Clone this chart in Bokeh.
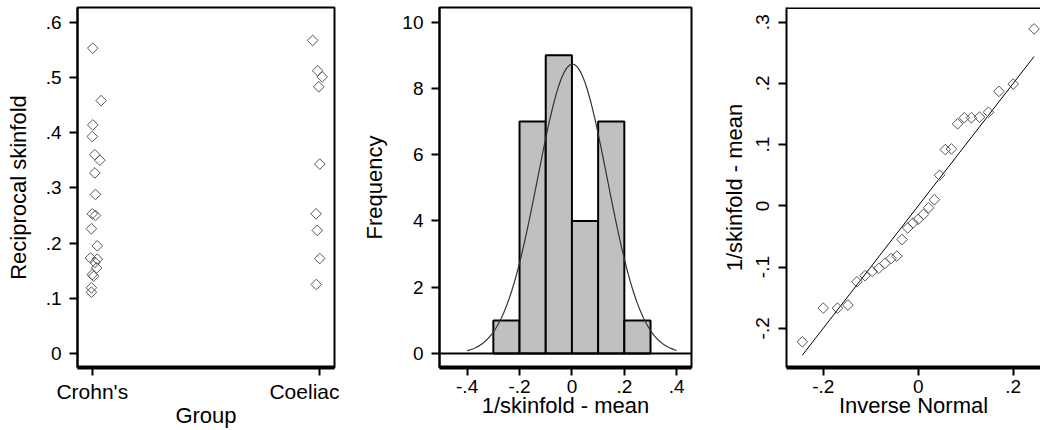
import numpy as np
from bokeh.plotting import figure
from bokeh.layouts import row
from bokeh.models import FixedTicker, Span, Range1d
from bokeh.embed import file_html
from bokeh.resources import INLINE

# ---------------- Panel 1: reciprocal skinfold by group ----------------
group_labels = ["Crohn's", "Coeliac"]
crohns_recip = [0.553, 0.458, 0.414, 0.393, 0.360, 0.350, 0.327, 0.288, 0.253, 0.250,
                0.226, 0.195, 0.173, 0.171, 0.165, 0.155, 0.143, 0.140, 0.119, 0.111]
crohns_jitter = [0.002, 0.039, 0.002, 0.000, 0.011, 0.033, 0.011, 0.014, 0.000, 0.014,
                 -0.004, 0.022, -0.008, 0.022, 0.012, 0.019, 0.000, 0.006, -0.004, -0.004]
coeliac_recip = [0.567, 0.512, 0.501, 0.483, 0.343, 0.253, 0.223, 0.172, 0.125]
coeliac_jitter = [-0.031, -0.009, 0.011, -0.004, 0.000, -0.016, -0.011, 0.000, -0.015]
recip_ticks = [0.0, 0.1, 0.2, 0.3, 0.4, 0.5, 0.6]
recip_tick_labels = ["0", ".1", ".2", ".3", ".4", ".5", ".6"]

# ---------------- Panel 2: histogram of deviations ----------------
bin_edges = [-0.3, -0.2, -0.1, 0.0, 0.1, 0.2, 0.3]
bin_counts = [1, 7, 9, 4, 7, 1]
freq_ticks = [0, 2, 4, 6, 8, 10]
dev_ticks = [-0.4, -0.2, 0.0, 0.2, 0.4]
dev_tick_labels = ["-.4", "-.2", "0", ".2", ".4"]

# ---------------- Panel 3: normal plot ----------------
inv_normal = [-0.244, -0.200, -0.170, -0.148, -0.129, -0.112, -0.097, -0.083, -0.070, -0.057,
              -0.045, -0.034, -0.022, -0.011, 0.000, 0.011, 0.022, 0.034, 0.045, 0.057,
              0.070, 0.083, 0.097, 0.112, 0.129, 0.148, 0.170, 0.200, 0.244]
deviations = [-0.222, -0.167, -0.167, -0.162, -0.124, -0.114, -0.107, -0.102, -0.094, -0.086,
              -0.082, -0.055, -0.036, -0.028, -0.022, -0.014, -0.003, 0.010, 0.050, 0.092,
              0.093, 0.134, 0.144, 0.144, 0.145, 0.153, 0.187, 0.199, 0.289]
qq_y_ticks = [-0.2, -0.1, 0.0, 0.1, 0.2, 0.3]
qq_y_tick_labels = ["-.2", "-.1", "0", ".1", ".2", ".3"]
qq_x_ticks = [-0.2, 0.0, 0.2]
qq_x_tick_labels = ["-.2", "0", ".2"]

FONT = "Liberation Sans"
TICK_FS = "19px"
LABEL_FS = "22px"
MARK_COLOR = "#555555"


def style(p, xlabel, ylabel, outline=True):
    p.toolbar_location = None
    p.grid.visible = False
    p.background_fill_color = "white"
    p.border_fill_color = "white"
    if outline:
        p.outline_line_color = "black"
        p.outline_line_width = 2
        p.outline_line_alpha = 1.0
    else:
        p.outline_line_color = None
    for ax in (p.xaxis[0], p.yaxis[0]):
        ax.major_tick_in = 0
        ax.major_tick_out = 8
        ax.major_tick_line_width = 2
        ax.major_tick_line_color = "black"
        ax.minor_tick_line_color = None
        ax.axis_line_color = "black"
        ax.major_label_text_font = FONT
        ax.major_label_text_font_size = TICK_FS
        ax.major_label_text_color = "black"
        ax.axis_label_text_font = FONT
        ax.axis_label_text_font_size = LABEL_FS
        ax.axis_label_text_font_style = "normal"
        ax.axis_label_text_color = "black"
    p.xaxis[0].axis_line_width = 4
    p.yaxis[0].axis_line_width = 2
    p.xaxis[0].axis_label = xlabel
    p.yaxis[0].axis_label = ylabel
    p.xaxis[0].major_label_standoff = 4
    p.xaxis[0].axis_label_standoff = -3
    p.yaxis[0].major_label_standoff = 8
    p.yaxis[0].axis_label_standoff = 12


H = 430
TOP = 7
BOTTOM = 62

# ---- Figure 1 ----
p1 = figure(width=339, height=H, output_backend="svg", toolbar_location=None,
            x_range=Range1d(0.935, 2.065), y_range=Range1d(-0.0253, 0.6266),
            min_border_left=77, min_border_right=5, min_border_top=TOP, min_border_bottom=BOTTOM)
cx = [1 + j for j in crohns_jitter]
gx = [2 + j for j in coeliac_jitter]
p1.scatter(cx, crohns_recip, marker="square", angle=np.pi / 4, size=7.5,
           fill_color=None, line_color=MARK_COLOR, line_width=1)
p1.scatter(gx, coeliac_recip, marker="square", angle=np.pi / 4, size=7.5,
           fill_color=None, line_color=MARK_COLOR, line_width=1)
style(p1, "Group", "Reciprocal skinfold")
p1.xaxis[0].ticker = FixedTicker(ticks=[1, 2])
p1.xaxis[0].major_label_overrides = {1: group_labels[0], 2: group_labels[1]}
p1.xaxis[0].major_label_text_font_size = "21px"
p1.yaxis[0].ticker = FixedTicker(ticks=recip_ticks)
p1.yaxis[0].major_label_overrides = {t: l for t, l in zip(recip_ticks, recip_tick_labels)}

# ---- Figure 2 ----
p2 = figure(width=357, height=H, output_backend="svg", toolbar_location=None,
            x_range=Range1d(-0.5055, 0.4564), y_range=Range1d(-0.42, 10.44),
            min_border_left=100, min_border_right=5, min_border_top=TOP, min_border_bottom=BOTTOM)
p2.quad(left=bin_edges[:-1], right=bin_edges[1:], bottom=0, top=bin_counts,
        fill_color="#c0c0c0", line_color="black", line_width=2)
n_obs = len(deviations)
bw = bin_edges[1] - bin_edges[0]
mu = float(np.mean(deviations))
sd = float(np.std(deviations, ddof=1))
xs = np.linspace(dev_ticks[0], dev_ticks[-1], 161)
ys = n_obs * bw * np.exp(-0.5 * ((xs - mu) / sd) ** 2) / (sd * np.sqrt(2 * np.pi))
p2.line(xs, ys, line_color="#333333", line_width=1.2)
p2.add_layout(Span(location=0, dimension="width", line_color="black", line_width=2))
style(p2, "1/skinfold - mean", "Frequency")
p2.xaxis[0].ticker = FixedTicker(ticks=dev_ticks)
p2.xaxis[0].major_label_overrides = {t: l for t, l in zip(dev_ticks, dev_tick_labels)}
p2.yaxis[0].ticker = FixedTicker(ticks=freq_ticks)

# ---- Figure 3 ----
p3 = figure(width=344, height=H, output_backend="svg", toolbar_location=None,
            x_range=Range1d(-0.2773, 0.2575), y_range=Range1d(-0.264, 0.324),
            min_border_left=90, min_border_right=0, min_border_top=TOP, min_border_bottom=BOTTOM)
lo, hi = min(inv_normal), max(inv_normal)
p3.line([lo, hi], [lo, hi], line_color="black", line_width=1)
p3.scatter(inv_normal, deviations, marker="square", angle=np.pi / 4, size=7.5,
           fill_color=None, line_color=MARK_COLOR, line_width=1)
style(p3, "Inverse Normal", "1/skinfold - mean", outline=False)
p3.add_layout(Span(location=0.324, dimension="width", line_color="black", line_width=3))
p3.xaxis[0].ticker = FixedTicker(ticks=qq_x_ticks)
p3.xaxis[0].major_label_overrides = {t: l for t, l in zip(qq_x_ticks, qq_x_tick_labels)}
p3.yaxis[0].ticker = FixedTicker(ticks=qq_y_ticks)
p3.yaxis[0].major_label_overrides = {t: l for t, l in zip(qq_y_ticks, qq_y_tick_labels)}
p3.yaxis[0].major_label_orientation = "vertical"
p3.yaxis[0].major_label_standoff = 9
p3.yaxis[0].axis_label_standoff = 7

layout = row(p1, p2, p3, spacing=0)
open("out.html", "w").write(file_html(layout, INLINE))
